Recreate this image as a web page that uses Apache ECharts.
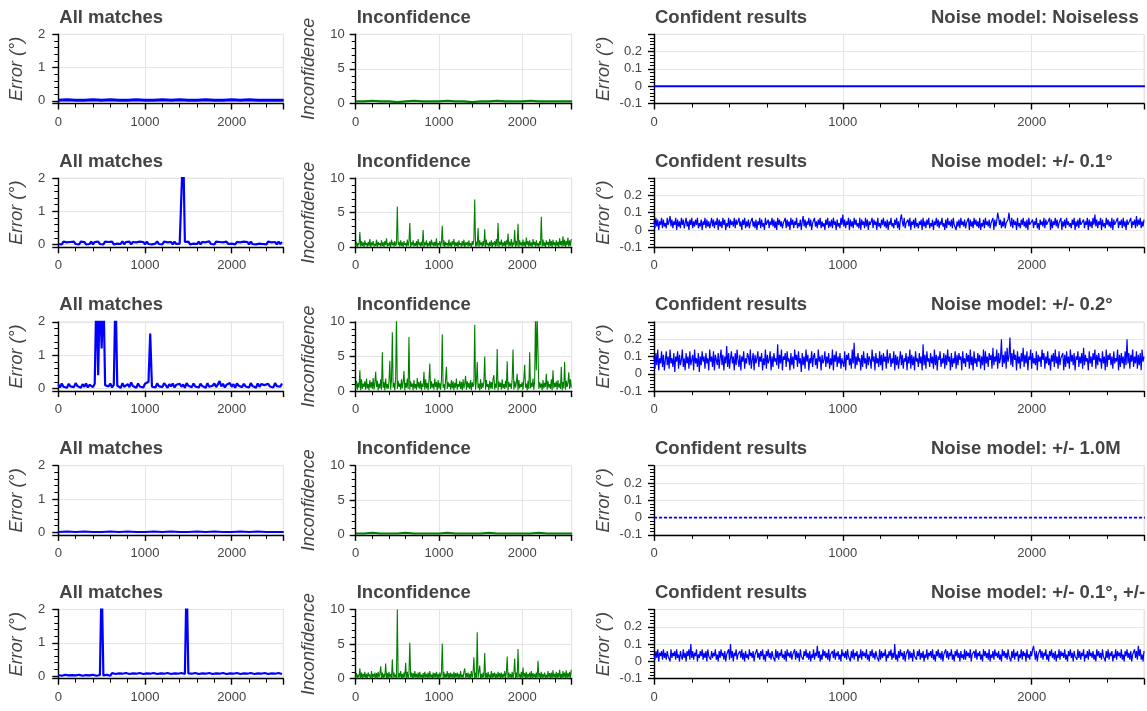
<!DOCTYPE html>
<html>
<head>
<meta charset="utf-8">
<title>Matches / inconfidence / confident results</title>
<script src="https://cdn.jsdelivr.net/npm/echarts@6.0.0/dist/echarts.min.js"></script>
<style>
  body { margin: 0; background: #fff; }
  #main { width: 1147px; height: 711px; }
</style>
</head>
<body>
<div id="main"></div>
<script>
// sample spacing on the x axis
const step = 20       // All matches
const stepInc = 10    // Inconfidence
const stepConf = 5    // Confident results
const stepFlat = 100  // flat rows (Noiseless, 1.0M)
const xMax = 2595

const colTitles = ['All matches', 'Inconfidence', 'Confident results']
const yNames = ['Error (°)', 'Inconfidence', 'Error (°)']
const noiseModels = ['Noiseless', '+/- 0.1°', '+/- 0.2°', '+/- 1.0M', '+/- 0.1°, +/-']

// All matches, error in 1/100 degree
const allM1 = [2,3,2,2,3,2,3,2,2,3,2,2,3,2,3,2,2,3,2,2,3,2,3,2,2,2,2]
const allM2 = [
  2,8,1,9,3,7,1,8,4,9, 2,7,1,9,3,8,1,6,2,9, 1,8,3,9,2,7,1,9,3,8, 2,9,1,7,3,8,2,10,1,8,
  3,9,1,8,2,7,1,9,3,8, 1,9,2,8,1,7,3,10,2,8, 1,9,3,7,2,8,1,9,2,8, 3,9,300,8,2,9,1,7,3,8,
  2,9,1,8,3,7,1,10,2,8, 1,9,3,8,2,7,1,9,2,8, 3,9,1,8,2,7,1,9,3,8, 1,9,2,8,1,7,3,9,2,8,
  1,9,3,7,2,8,1,9,2,8]
const allM3 = [
  12,3,15,5,10,2,14,6,11,4, 16,7,9,2,13,5,15,3,11,8, 4,14,300,40,300,120,300,10,13,6, 15,3,11,300,8,14,2,16,5,10,
  13,4,18,7,11,2,15,6,12,3, 14,8,20,165,5,11,3,15,7,12, 4,16,9,2,13,6,15,3,11,7, 14,5,12,2,16,8,10,4,15,6,
  11,3,14,7,13,2,16,5,10,8, 15,4,12,22,6,14,3,11,7,16, 5,13,2,15,8,10,4,14,6,12, 3,16,7,11,2,15,5,13,8,10,
  4,14,6,12,3,16,7,11,5,15]
const allM4 = [1,2,1,2,1,1,2,1,2,1,1,2,1,2,1,1,2,1,2,1,1,2,1,2,1,1,1]
const allM5 = [
  3,8,1,7,4,9,2,6,3,8, 2,7,4,9,1,6,3,8,2,7, 4,9,1,6,3,300,2,8,4,7, 1,9,3,6,2,8,4,7,1,9,
  3,6,2,8,4,7,1,9,3,6, 2,8,4,7,1,9,3,6,2,8, 4,7,1,9,3,6,2,8,4,7, 1,9,3,6,300,8,4,7,1,9,
  3,6,2,8,4,7,1,9,3,6, 2,8,4,7,1,9,3,6,2,8, 4,7,1,9,3,6,2,8,4,7, 1,9,3,6,2,8,4,7,1,9,
  3,6,2,8,4,7,1,9,3,6]

// Inconfidence, in 1/10
const inc1 = [3,3,4,3,3,2,3,4,3,3,3,4,3,3,2,3,3,4,3,3,3,4,3,3,3,3,3]
const inc2 = [
  2,8,0,6,3,22,1,9,2,7, 0,10,3,6,1,8,2,12,0,7, 3,9,1,5,2,11,0,8,3,6, 1,10,2,7,0,9,3,13,1,6, 2,8,0,11,3,7,1,9,2,5,
  59,3,8,1,10,2,7,0,9,3, 6,1,11,2,8,35,0,7,3,10, 1,6,2,9,0,12,3,7,1,8, 2,25,0,7,3,10,1,6,2,9, 0,11,3,7,1,8,2,13,0,6,
  3,9,1,7,31,2,10,0,8,3, 6,1,11,2,7,0,9,3,12,1, 7,2,8,0,10,3,6,1,9,2, 11,0,7,3,8,1,10,2,6,0, 9,3,12,69,1,8,2,28,0,10,
  3,7,1,9,2,26,0,11,3,6, 1,8,2,10,0,7,3,9,1,12, 2,35,0,8,3,11,1,7,2,9, 0,10,3,20,1,8,2,12,0,7, 3,25,1,9,2,34,0,10,3,7,
  1,11,2,8,0,14,3,9,1,10, 2,7,0,12,3,8,1,10,2,6, 0,9,3,44,1,11,2,7,0,10, 3,8,1,12,2,9,0,11,3,7, 1,10,2,8,0,13,3,9,1,16,
  2,11,0,9,3,14,1,10,2,12]
const inc3 = [
  4,15,2,12,5,30,1,17,3,11, 6,14,2,18,4,10,1,16,5,13, 3,19,2,12,28,6,15,1,11,4, 17,2,56,5,13,1,18,4,10,3, 14,44,2,16,85,5,12,1,19,110,
  3,15,6,11,2,17,4,13,29,1, 12,5,18,3,78,2,14,6,11,1, 16,4,10,2,19,5,13,3,15,1, 11,6,28,2,17,4,12,1,15,40, 3,14,5,11,2,18,6,13,1,16,
  4,12,2,15,82,5,10,1,17,35, 3,13,6,11,2,16,4,14,1,12, 5,18,2,10,6,15,3,13,1,17, 4,11,22,2,14,5,12,3,16,1, 13,6,10,96,2,15,42,4,11,1,
  17,3,12,5,14,50,2,16,6,10, 1,15,4,13,3,18,23,2,11,5, 61,1,14,6,12,2,17,4,10,3, 15,5,43,1,13,6,11,3,18,60, 2,14,5,12,25,1,16,4,10,6,
  13,2,17,38,5,11,1,15,3,56, 4,12,6,18,2,14,110,30,110,110, 3,13,5,11,1,16,4,12,6,25, 2,15,5,10,3,17,1,30,4,12, 6,14,2,16,5,11,3,35,1,13,
  4,42,2,15,6,12,27,3,17,5]
const inc4 = [2,2,3,2,2,2,3,2,2,2,2,3,2,2,2,2,3,2,2,2,2,2,3,2,2,2,2]
const inc5 = [
  1,8,0,6,2,15,0,9,1,7, 2,10,0,7,1,9,3,6,0,11, 1,7,2,9,0,8,1,10,2,6, 18,1,9,0,7,2,22,1,8,0, 10,2,7,0,28,1,9,2,6,1,
  100,0,8,2,11,1,7,0,9,2, 23,1,10,0,7,52,2,9,1,8, 0,11,2,7,1,9,0,10,2,6, 1,8,0,10,2,7,1,9,0,11, 2,6,1,9,0,8,2,10,1,7,
  0,9,2,8,51,1,10,0,7,2, 11,1,8,0,9,2,7,1,10,0, 8,2,9,1,7,0,11,2,6,1, 10,15,0,8,2,9,1,7,0,11, 2,8,31,1,9,0,67,2,10,19,
  1,7,0,9,2,37,1,8,0,10, 2,6,1,11,0,8,2,9,1,7, 0,10,2,8,1,9,0,7,2,11, 1,8,32,0,9,2,7,1,10,0, 8,29,1,9,0,43,2,7,1,10,
  0,16,2,8,1,10,0,7,2,9, 1,11,0,8,2,7,1,9,0,26, 2,8,1,10,0,7,2,9,1,6, 0,11,2,8,1,9,0,12,2,7, 1,10,0,8,2,13,1,7,0,11,
  2,9,1,12,0,8,2,10,1,13]

// Confident results, error in 1/100 degree
const conf1 = [0,0,0,0,0,0,0,0,0,0,0,0,0,0,0,0,0,0,0,0,0,0,0,0,0,0,0]
const conf2 = [
  5,1,7,2,6,0,5,3,7,1, 6,2,4,1,7,3,5,8,2,6, 1,5,3,7,0,6,2,5,1,7, 3,6,1,4,7,2,5,0,6,3, 7,1,5,2,6,3,7,1,4,2,
  6,0,5,3,7,1,6,2,5,1, 4,7,2,6,1,5,3,7,0,6, 2,5,1,7,3,6,0,4,2,7, 1,6,3,5,2,7,1,6,3,4, 7,2,5,0,6,3,7,1,5,2,
  6,1,4,3,7,2,5,1,6,0, 5,3,7,1,6,2,4,0,7,3, 2,6,1,5,3,7,2,6,1,5, 0,7,3,6,2,5,1,4,3,7, 1,6,2,5,0,7,3,6,1,5,
  3,7,1,4,2,6,0,5,8,2, 6,1,5,3,7,2,6,0,4,3, 7,2,5,1,6,3,7,1,5,2, 4,0,6,3,7,1,5,2,6,1, 7,3,5,0,6,2,4,1,7,3,
  9,2,6,1,5,3,7,0,6,2, 5,1,7,3,6,2,4,1,7,0, 6,3,5,1,7,2,6,0,5,3, 2,7,1,6,3,5,0,7,2,4, 1,6,3,7,2,5,1,6,0,5,
  3,7,2,4,1,6,3,7,1,5, 0,6,9,5,2,7,1,4,3,6, 2,7,0,5,3,6,1,7,2,4, 1,5,3,6,0,7,2,5,1,6, 3,7,1,4,2,6,0,5,3,7,
  2,6,1,5,3,7,2,4,0,6, 1,7,3,5,2,6,1,7,3,4, 0,5,2,6,1,7,3,5,2,6, 1,4,3,7,0,6,2,5,1,7, 3,6,2,5,1,7,0,4,2,6,
  1,7,3,5,2,6,1,4,3,7, 0,6,2,5,10,7,3,6,1,5, 2,7,1,4,3,6,10,5,2,7, 1,6,3,5,0,7,2,4,1,6, 3,7,2,5,1,6,0,7,3,4,
  2,6,1,5,3,7,1,4,0,6, 3,5,2,7,1,6,3,4,2,7, 0,6,1,5,3,7,2,6,1,4, 3,7,0,5,2,6,1,7,3,5, 2,4,1,6,3,7,0,5,2,6,
  1,7,3,4,2,6,1,5,3,7, 0,6,2,5,1,7,3,9,2,6, 1,5,3,7,0,6,2,4,1,7, 3,6,2,5,1,7,0,6,3,4, 2,7,1,5,3,6,1,7,2,5,
  0,6,3,4,2,7,1,5,3,6, 1,8,2,6,3,7,1,5,2,6]
const conf3 = [
  10,3,12,5,14,2,9,6,13,4, 11,2,8,13,5,10,3,14,6,9, 4,12,1,10,7,13,3,11,5,8, 14,4,9,2,12,6,10,3,13,5, 8,11,2,14,6,9,4,12,1,10,
  5,13,7,10,3,12,6,9,2,14, 7,10,4,13,2,11,8,5,12,3, 9,14,5,11,2,10,6,16,4,12, 3,9,13,6,10,2,12,5,14,8, 4,11,2,10,7,13,3,9,6,12,
  10,5,14,3,8,12,2,11,6,9, 13,4,10,7,12,2,9,5,14,3, 11,6,8,13,2,10,4,12,7,9, 5,17,3,11,6,14,2,10,8,12, 4,13,7,9,2,12,5,10,3,14,
  8,11,4,13,6,9,1,12,5,10, 3,14,7,11,2,9,6,13,4,10, 12,5,9,3,14,7,10,2,11,6, 8,13,4,10,6,12,3,9,5,14, 2,11,7,13,4,10,6,12,3,9,
  10,4,13,2,11,8,12,5,9,3, 14,6,18,3,10,5,12,7,9,2, 11,4,13,6,9,3,12,5,10,8, 3,14,7,10,2,12,6,9,4,13, 5,11,2,12,7,10,3,14,6,9,
  12,4,9,6,13,2,11,5,10,3, 8,13,5,11,3,9,7,12,2,10, 6,14,3,11,5,10,2,13,7,9, 4,12,6,10,2,17,5,11,3,13, 7,9,4,12,6,10,3,14,5,11,
  2,10,8,13,4,9,6,12,3,11, 5,14,7,10,2,12,4,9,6,13, 3,11,5,12,8,10,2,13,6,9, 4,12,7,11,3,14,5,10,2,13, 6,9,4,12,7,11,3,10,5,14,
  2,13,6,10,4,12,8,11,3,15, 5,10,7,14,3,12,6,9,20,4, 11,6,13,3,15,7,10,21,5,12, 4,14,8,11,2,13,6,10,3,12, 7,15,4,11,6,13,2,10,8,14,
  3,12,6,9,5,13,2,11,7,10, 4,14,8,12,3,10,6,13,5,9, 2,11,7,12,4,14,6,10,3,13, 5,9,8,12,2,11,4,13,6,10, 3,14,7,11,5,12,2,10,8,13,
  4,10,6,12,3,15,5,11,7,9, 2,13,6,10,4,12,8,14,3,11, 5,12,7,9,3,13,6,10,2,14, 4,11,8,12,5,10,3,13,6,9, 7,14,2,11,4,12,6,10,3,13,
  5,20,6,12,3,11,7,14,4,10, 6,13,3,11,5,12,2,14,7,10]
const conf4 = [0,0,0,0,0,0,0,0,0,0,0,0,0,0,0,0,0,0,0,0,0,0,0,0,0,0,0]
const conf5 = [
  4,1,6,2,7,0,5,3,6,1, 7,2,5,1,6,3,4,0,7,2, 5,3,6,1,7,2,4,0,6,3, 1,7,2,5,0,6,3,7,1,10, 2,6,1,5,3,7,0,4,2,6,
  3,7,1,5,2,6,0,7,3,4, 1,6,2,5,3,7,1,4,0,6, 2,7,3,5,1,6,0,4,3,7, 1,10,2,6,0,5,3,7,1,4, 3,6,2,7,1,5,0,6,2,4,
  1,7,3,5,2,6,0,4,3,7, 2,5,1,6,3,7,1,4,0,6, 3,7,2,5,1,6,3,4,0,7, 2,6,1,5,3,7,2,4,1,6, 0,7,3,5,2,6,1,4,3,7,
  1,6,2,5,0,7,3,4,1,6, 3,7,2,5,1,6,0,4,2,7, 1,5,3,9,2,6,0,4,1,7, 3,6,2,5,1,7,0,4,3,6, 2,7,1,5,3,6,1,4,0,7,
  3,5,2,6,1,7,3,4,0,6, 2,7,1,5,3,6,0,4,2,7, 1,6,3,5,2,7,1,4,0,6, 3,7,2,5,1,6,3,4,0,7, 1,6,2,5,3,7,0,4,2,6,
  3,7,1,5,2,10,1,4,0,6, 2,7,3,5,1,6,0,4,3,7, 1,6,2,5,0,7,3,4,1,6, 3,7,1,5,2,6,0,4,2,7, 1,5,3,6,2,7,1,4,0,6,
  3,7,2,5,1,6,0,4,3,7, 2,6,1,5,3,7,1,4,0,6, 3,7,2,5,0,6,2,4,1,7, 1,6,3,5,2,7,0,4,3,6, 2,7,1,5,3,6,1,4,0,7,
  3,6,2,5,1,7,0,4,2,6, 1,7,3,5,2,6,1,4,0,7, 3,6,2,5,1,7,3,4,0,6, 2,7,1,5,3,6,0,4,2,7, 1,6,3,5,0,7,2,4,1,6,
  3,7,9,5,1,6,0,4,3,7, 2,6,1,5,3,7,1,4,0,6, 3,7,2,5,1,6,0,4,2,7, 1,6,3,5,2,7,1,4,0,6, 3,7,2,5,0,6,3,4,1,7,
  2,6,1,5,3,7,0,4,2,6, 1,7,3,5,2,6,1,4,0,7, 3,6,2,5,1,7,3,4,0,6, 2,7,1,5,3,6,0,4,2,7, 1,6,3,5,2,7,1,4,0,6,
  3,7,2,5,1,6,0,4,3,7, 2,6,1,9,3,7,1,4,0,6]

// one entry per row: [all matches, inconfidence, confident]
const rows = [
  [[allM1, stepFlat], [inc1, stepFlat], [conf1, stepFlat]],
  [[allM2, step], [inc2, stepInc], [conf2, stepConf]],
  [[allM3, step], [inc3, stepInc], [conf3, stepConf]],
  [[allM4, stepFlat], [inc4, stepFlat], [conf4, stepFlat]],
  [[allM5, step], [inc5, stepInc], [conf5, stepConf]],
]
const scales = [0.01, 0.1, 0.01]

// layout (px)
const rowTops = [34.3, 178.1, 321.9, 465.7, 609.5]
const rowH = 69.2
const colLeft = [58.3, 355.7, 654]
const colW = [225, 216, 490]
const nameGaps = [32, 38, 41]
const noisyWidth = [2.2, 1.1, 1.2]   // line width of the noisy rows per column
const flatWidth = [[3, 2.2, 2], [2, 2, 1.6]]  // Noiseless / 1.0M rows
const font = "'Liberation Sans', Arial, sans-serif"

const titleStyle = { fontSize: 18.5, fontWeight: 'bold', color: '#444', fontFamily: font }
const black = { color: '#000', width: 1.4 }

let grid = [], xAxis = [], yAxis = [], series = [], title = []

rowTops.forEach((top, r) => {
  colLeft.forEach((left, c) => {
    const gi = grid.length
    grid.push({ left: left, top: top, width: colW[c], height: rowH, show: true, borderColor: '#e5e5e5', borderWidth: 1 })
    title.push({ text: colTitles[c], left: left + 1, top: top - 26, padding: 0, textStyle: titleStyle })

    xAxis.push({
      gridIndex: gi, type: 'value', min: 0, max: xMax, interval: 1000,
      axisLine: { onZero: false, lineStyle: black },
      axisTick: { length: 6, lineStyle: black },
      minorTick: { show: true, splitNumber: 5, length: 4, lineStyle: { color: '#000' } },
      axisLabel: { color: '#444', fontSize: 13, margin: 12, showMaxLabel: false, fontFamily: font,
        formatter: v => String(v) },
      splitLine: { lineStyle: { color: '#e5e5e5' } }
    })

    let y = {
      gridIndex: gi, type: 'value',
      name: yNames[c], nameLocation: 'middle', nameGap: nameGaps[c],
      nameTextStyle: { fontStyle: 'italic', fontSize: 18, color: '#444', fontFamily: font },
      axisLine: { onZero: false, lineStyle: black },
      axisTick: { length: 6, lineStyle: black },
      minorTick: { show: true, splitNumber: 5, length: 4, lineStyle: { color: '#000' } },
      axisLabel: { color: '#444', fontSize: 13, margin: 13, fontFamily: font },
      splitLine: { lineStyle: { color: '#e5e5e5' } }
    }
    if (c == 0) { y.min = -0.08; y.max = 2; y.splitNumber = 2; y.axisLabel.showMinLabel = false }
    if (c == 1) { y.min = 0; y.max = 10; y.interval = 5; y.axisLabel.margin = 11 }
    if (c == 2) { y.min = -0.1; y.max = 0.3; y.interval = 0.1; y.axisLabel.showMaxLabel = false; y.axisLabel.margin = 12 }
    yAxis.push(y)

    const [vals, st] = rows[r][c]
    const flat = st == stepFlat
    let lineStyle = {
      color: c == 1 ? '#008000' : '#0000ff',
      width: flat ? flatWidth[r == 0 ? 0 : 1][c] : noisyWidth[c]
    }
    if (r == 3 && c == 2) lineStyle.type = [3, 2]   // 1.0M confident line looks dotted
    series.push({
      type: 'line', xAxisIndex: gi, yAxisIndex: gi,
      showSymbol: false, symbol: 'none', animation: false,
      lineStyle: lineStyle,
      data: vals.map((v, i) => [i * st, v * scales[c]])
    })
  })
  title.push({ text: 'Noise model: ' + noiseModels[r], left: 931, top: top - 26, padding: 0, textStyle: titleStyle })
})

let myChart = echarts.init(document.getElementById('main'))
let option = {
  backgroundColor: '#fff',
  animation: false,
  title: title,
  grid: grid,
  xAxis: xAxis,
  yAxis: yAxis,
  series: series
}
myChart.setOption(option)
</script>
</body>
</html>
